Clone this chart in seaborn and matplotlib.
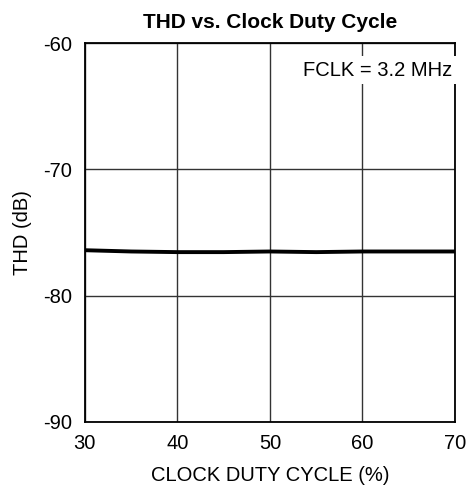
import numpy as np
import pandas as pd
import matplotlib
matplotlib.use("Agg")
import matplotlib.pyplot as plt
import seaborn as sns

# data
duty_cycle = [30, 35, 40, 45, 50, 55, 60, 65, 70]
thd_db = [-76.4, -76.5, -76.55, -76.55, -76.5, -76.55, -76.5, -76.5, -76.5]
x_ticks = [30, 40, 50, 60, 70]
y_ticks = [-90, -80, -70, -60]

df = pd.DataFrame({"duty": duty_cycle, "thd": thd_db})

sns.set_style("white")
plt.rcParams['font.family'] = ['Liberation Sans', 'DejaVu Sans']
plt.rcParams['axes.unicode_minus'] = False
plt.rcParams['text.color'] = 'black'
plt.rcParams['axes.labelcolor'] = 'black'

fig = plt.figure(figsize=(4.69, 4.87), dpi=100)
ax = fig.add_axes([0.181, 0.1335, 0.789, 0.778])

sns.lineplot(data=df, x="duty", y="thd", ax=ax, color="black", linewidth=2.8)

ax.set_xlim(30, 70)
ax.set_ylim(-90, -60)
ax.set_xticks(x_ticks)
ax.set_yticks(y_ticks)
ax.grid(True, color="#333333", linewidth=1.0)
ax.set_axisbelow(True)
for s in ax.spines.values():
    s.set_color("black")
    s.set_linewidth(1.3)
ax.tick_params(axis="both", labelsize=14.5, length=0, colors="black")
ax.tick_params(axis="y", pad=9)
ax.tick_params(axis="x", pad=9)

ax.set_xlabel("CLOCK DUTY CYCLE (%)", fontsize=14.5, labelpad=9)
ax.set_ylabel("THD (dB)", fontsize=14.5, labelpad=8)
ax.set_title("THD vs. Clock Duty Cycle", fontsize=15, fontweight="bold", pad=11)

ax.text(0.992, 0.929, "FCLK = 3.2 MHz", transform=ax.transAxes, ha="right", va="center",
        fontsize=14.5, bbox=dict(facecolor="white", edgecolor="none", pad=3.5))

plt.savefig("out.png", dpi=100)
